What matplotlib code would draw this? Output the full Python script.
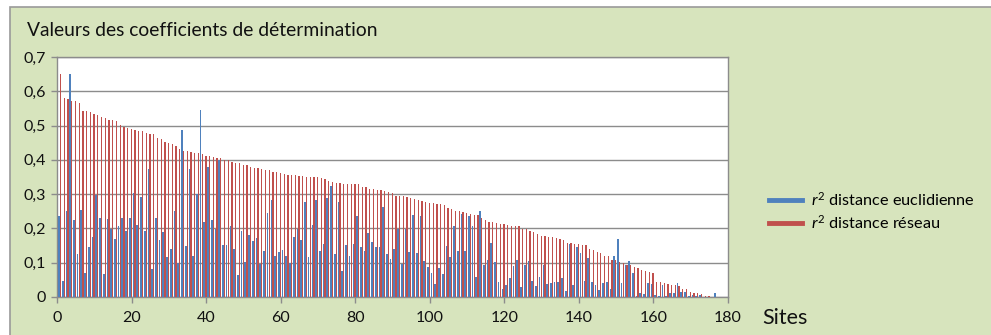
import numpy as np
import matplotlib
matplotlib.use("Agg")
import matplotlib.pyplot as plt
from matplotlib.patches import Rectangle
from matplotlib.lines import Line2D

# r2 per site
r2_euclid = [
    0.236, 0.046, 0.252, 0.651, 0.224, 0.124, 0.255, 0.071, 0.147, 0.174,
    0.298, 0.229, 0.068, 0.227, 0.199, 0.169, 0.208, 0.229, 0.192, 0.229,
    0.304, 0.209, 0.291, 0.192, 0.372, 0.081, 0.229, 0.167, 0.189, 0.117,
    0.141, 0.252, 0.099, 0.488, 0.149, 0.372, 0.119, 0.299, 0.545, 0.220,
    0.379, 0.225, 0.199, 0.401, 0.152, 0.152, 0.208, 0.141, 0.065, 0.192,
    0.103, 0.182, 0.162, 0.173, 0.096, 0.134, 0.245, 0.284, 0.121, 0.130,
    0.138, 0.119, 0.099, 0.174, 0.197, 0.166, 0.276, 0.116, 0.209, 0.284,
    0.134, 0.154, 0.290, 0.323, 0.124, 0.276, 0.076, 0.151, 0.119, 0.156,
    0.235, 0.147, 0.134, 0.188, 0.159, 0.147, 0.147, 0.263, 0.124, 0.112,
    0.139, 0.197, 0.095, 0.197, 0.130, 0.238, 0.127, 0.235, 0.106, 0.088,
    0.071, 0.039, 0.084, 0.068, 0.149, 0.116, 0.208, 0.134, 0.242, 0.133,
    0.235, 0.208, 0.058, 0.252, 0.092, 0.107, 0.158, 0.101, 0.044, 0.023,
    0.036, 0.054, 0.089, 0.109, 0.030, 0.092, 0.104, 0.046, 0.033, 0.058,
    0.092, 0.038, 0.040, 0.045, 0.045, 0.055, 0.018, 0.154, 0.036, 0.147,
    0.129, 0.048, 0.114, 0.045, 0.035, 0.021, 0.041, 0.043, 0.024, 0.121,
    0.169, 0.040, 0.092, 0.106, 0.071, 0.003, 0.011, 0.008, 0.042, 0.038,
    0.006, 0.003, 0.035, 0.003, 0.011, 0.011, 0.040, 0.016, 0.016, 0.003,
    0.006, 0.003, 0.005, 0.000, 0.000, 0.000, 0.011,
]
r2_reseau = [
    0.651, 0.579, 0.577, 0.571, 0.571, 0.565, 0.542, 0.542, 0.539, 0.535,
    0.532, 0.525, 0.522, 0.517, 0.515, 0.512, 0.502, 0.495, 0.492, 0.489,
    0.486, 0.483, 0.483, 0.477, 0.474, 0.474, 0.464, 0.462, 0.452, 0.449,
    0.446, 0.441, 0.433, 0.427, 0.426, 0.424, 0.421, 0.421, 0.416, 0.411,
    0.411, 0.409, 0.406, 0.406, 0.401, 0.401, 0.393, 0.391, 0.391, 0.384,
    0.384, 0.379, 0.376, 0.376, 0.374, 0.369, 0.369, 0.366, 0.366, 0.363,
    0.360, 0.357, 0.356, 0.355, 0.353, 0.352, 0.351, 0.351, 0.349, 0.349,
    0.348, 0.343, 0.338, 0.335, 0.333, 0.333, 0.331, 0.330, 0.330, 0.330,
    0.330, 0.321, 0.321, 0.316, 0.316, 0.313, 0.313, 0.310, 0.307, 0.303,
    0.296, 0.296, 0.294, 0.292, 0.289, 0.286, 0.282, 0.280, 0.277, 0.275,
    0.275, 0.270, 0.270, 0.267, 0.260, 0.257, 0.252, 0.252, 0.248, 0.246,
    0.242, 0.238, 0.238, 0.231, 0.224, 0.220, 0.218, 0.215, 0.214, 0.213,
    0.211, 0.208, 0.207, 0.207, 0.197, 0.197, 0.192, 0.189, 0.185, 0.179,
    0.178, 0.175, 0.174, 0.171, 0.169, 0.167, 0.157, 0.157, 0.156, 0.154,
    0.151, 0.151, 0.141, 0.136, 0.130, 0.127, 0.119, 0.119, 0.109, 0.108,
    0.102, 0.099, 0.094, 0.093, 0.088, 0.084, 0.078, 0.077, 0.073, 0.071,
    0.043, 0.043, 0.040, 0.037, 0.036, 0.035, 0.032, 0.024, 0.022, 0.015,
    0.013, 0.012, 0.009, 0.003, 0.002, 0.001, 0.000,
]
x_ticks = [0, 20, 40, 60, 80, 100, 120, 140, 160, 180]
y_ticks = [0, 0.1, 0.2, 0.3, 0.4, 0.5, 0.6, 0.7]
y_labels = ["0", "0,1", "0,2", "0,3", "0,4", "0,5", "0,6", "0,7"]

BLUE = "#4f81bd"
RED = "#c0504d"
GREEN = "#d7e4bd"
GRID = "#8c8c8c"
TXT = "#111111"
FONT = "Lato"

plt.rcParams['font.family'] = [FONT, 'DejaVu Sans']
plt.rcParams['mathtext.fontset'] = 'custom'
plt.rcParams['mathtext.rm'] = FONT
plt.rcParams['mathtext.it'] = FONT + ':italic'

W, H = 991, 335
fig = plt.figure(figsize=(W / 100, H / 100), dpi=100)
fig.patch.set_facecolor("white")

#green chart area with thin grey frame (behind the axes)
fig.patches.append(Rectangle((10 / W, -0.01), 1 - 10 / W + 0.01, 1.01 - 7 / H,
                             transform=fig.transFigure, facecolor=GREEN,
                             edgecolor="#9a9a9a", lw=1.2, zorder=-10))

ax = fig.add_axes([57.3 / W, 1 - 297 / H, (728 - 57.3) / W, (297 - 57) / H])
ax.set_facecolor("white")

idx = np.arange(len(r2_euclid))
ax.bar(idx + 0.45, r2_euclid, width=0.45, color=BLUE, linewidth=0, zorder=3)
ax.bar(idx + 0.88, r2_reseau, width=0.34, color=RED, linewidth=0, zorder=3)

ax.set_xlim(0, 180)
ax.set_ylim(0, 0.7)
ax.set_xticks(x_ticks)
ax.set_yticks(y_ticks)
ax.set_yticklabels(y_labels)
ax.yaxis.grid(True, color=GRID, lw=1.0, zorder=1)
ax.set_axisbelow(True)
for sp in ax.spines.values():
    sp.set_color(GRID)
    sp.set_linewidth(1.0)
ax.tick_params(axis='both', direction='out', length=4, width=1, color=GRID,
               labelsize=11.5, labelcolor=TXT)
ax.tick_params(axis='x', pad=6)
ax.tick_params(axis='y', pad=4)

fig.text(27 / W, 1 - 31 / H, "Valeurs des coefficients de détermination",
         fontsize=13.9, va='center', ha='left', color=TXT)
fig.text(762 / W, 1 - 324 / H, "Sites", fontsize=15.5, va='baseline',
         ha='left', color=TXT)

handles = [Line2D([], [], color=BLUE, lw=3.5), Line2D([], [], color=RED, lw=3.5)]
fig.legend(handles, [r"$r^2$ distance euclidienne", r"$r^2$ distance réseau"],
           loc='center left', bbox_to_anchor=(769 / W, 1 - 211 / H),
           frameon=False, fontsize=11.7, handlelength=2.0, handletextpad=0.6,
           labelspacing=0.3, borderaxespad=0, borderpad=0)

fig.savefig("out.png", dpi=100)
